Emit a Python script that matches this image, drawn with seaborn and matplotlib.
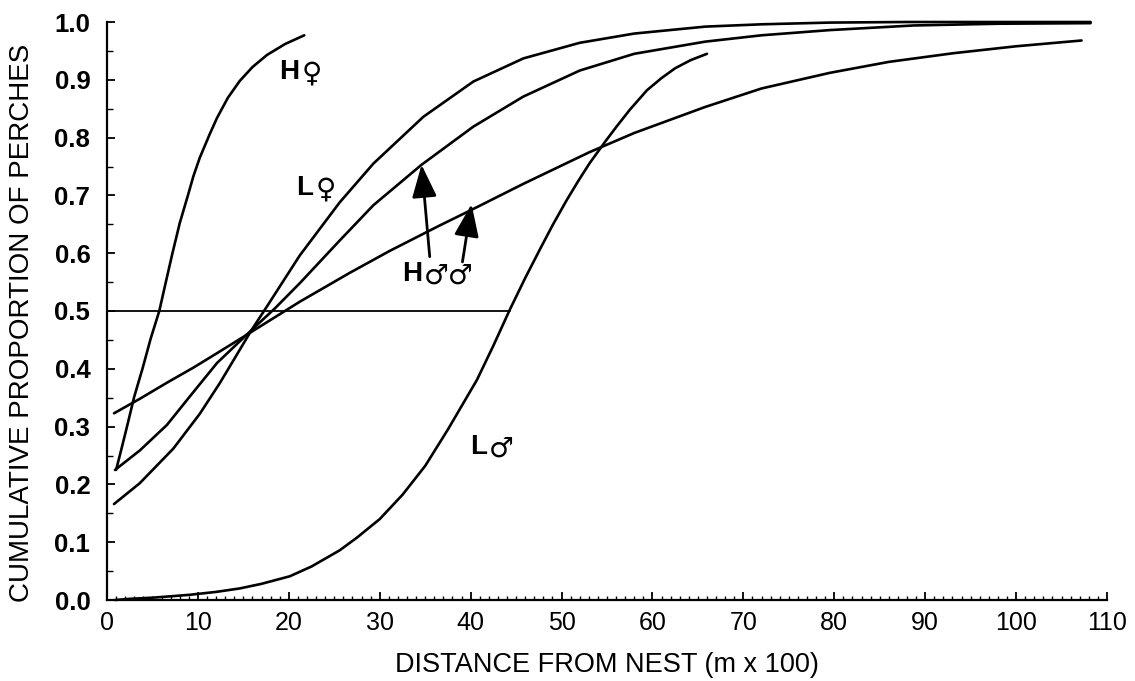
import matplotlib
matplotlib.use("Agg")
import matplotlib.pyplot as plt
from matplotlib import font_manager
from matplotlib.ticker import MultipleLocator, FormatStrFormatter
import seaborn as sns

# curve values (distance in m x 100, cumulative proportion)
hf_x = [1.0, 1.6, 2.2, 3.0, 3.9, 4.8, 5.75, 6.5, 7.2, 8.0, 8.9, 9.5, 10.2, 11.3, 12.1, 13.3,
        14.6, 16.0, 17.6, 19.6, 21.7]
hf_y = [0.225, 0.262, 0.30, 0.352, 0.40, 0.452, 0.50, 0.552, 0.60, 0.652, 0.70, 0.733, 0.765,
        0.806, 0.834, 0.869, 0.898, 0.922, 0.943, 0.962, 0.977]

lf_x = [0.77, 3.6, 7.3, 10.2, 12.4, 15.9, 17.6, 21.2, 25.6, 29.3, 34.8, 40.3, 45.8, 52.0, 58.0,
        65.8, 72.0, 79.5, 88.0, 98.0, 108.2]
lf_y = [0.166, 0.202, 0.262, 0.322, 0.375, 0.467, 0.508, 0.596, 0.688, 0.755, 0.836, 0.897, 0.937,
        0.964, 0.98, 0.992, 0.996, 0.999, 1.0, 1.0, 1.0]

hm1_x = [0.88, 3.63, 6.6, 9.0, 12.1, 15.9, 18.5, 21.2, 25.6, 29.3, 34.6, 40.3, 45.8, 52.0, 58.0,
         65.8, 72.0, 79.5, 88.7, 98.0, 108.2]
hm1_y = [0.225, 0.259, 0.303, 0.35, 0.41, 0.467, 0.505, 0.548, 0.622, 0.683, 0.753, 0.819, 0.871,
         0.916, 0.945, 0.966, 0.977, 0.986, 0.994, 0.997, 0.998]

hm2_x = [0.77, 3.6, 6.6, 9.5, 12.1, 15.9, 21.2, 26.7, 31.1, 36.6, 40.1, 45.8, 53.1, 58.0, 65.8,
         72.0, 79.5, 86.0, 93.1, 100.0, 107.2]
hm2_y = [0.323, 0.348, 0.376, 0.402, 0.427, 0.464, 0.516, 0.566, 0.604, 0.648, 0.675, 0.72, 0.775,
         0.808, 0.853, 0.885, 0.912, 0.931, 0.946, 0.958, 0.968]

lm_x = [0.9, 2.5, 5.0, 7.5, 9.1, 12.0, 14.6, 17.0, 20.1, 22.5, 25.6, 27.5, 30.0, 32.5, 35.0,
        37.5, 40.7, 42.5, 44.3, 46.0, 47.6, 49.0, 50.5, 51.8, 53.1, 54.8, 56.0, 57.5, 59.4,
        61.0, 62.5, 64.2, 66.0]
lm_y = [0.0, 0.002, 0.004, 0.007, 0.009, 0.014, 0.020, 0.028, 0.041, 0.058, 0.086, 0.108, 0.140,
        0.182, 0.232, 0.295, 0.381, 0.44, 0.502, 0.557, 0.606, 0.648, 0.69, 0.724, 0.756, 0.793,
        0.818, 0.848, 0.882, 0.903, 0.92, 0.934, 0.945]

half_x = [0.0, 44.3]
half_y = [0.5, 0.5]

sns.set_style("ticks")

def have(name):
    try:
        font_manager.findfont(name, fallback_to_default=False)
        return True
    except Exception:
        return False

narrow = "Liberation Sans Narrow" if have("Liberation Sans Narrow") else "Liberation Sans"
plt.rcParams['font.family'] = ['Liberation Sans', 'DejaVu Sans']
plt.rcParams.update({'text.color': 'black', 'axes.labelcolor': 'black',
                     'xtick.color': 'black', 'ytick.color': 'black',
                     'axes.edgecolor': 'black'})

fig = plt.figure(figsize=(11.35, 6.81), dpi=100)
ax = fig.add_axes([107/1135, 1-600/681, 1000/1135, 578/681])

for xs, ys in [(hf_x, hf_y), (lf_x, lf_y), (hm1_x, hm1_y), (hm2_x, hm2_y), (lm_x, lm_y)]:
    sns.lineplot(x=xs, y=ys, ax=ax, color='black', lw=1.9, sort=False, estimator=None)
sns.lineplot(x=half_x, y=half_y, ax=ax, color='black', lw=1.3, sort=False, estimator=None)

for ln in ax.lines:
    ln.set_clip_on(False)
    ln.set_solid_joinstyle('round')

ax.set_xlim(0, 110)
ax.set_ylim(0, 1.0)
sns.despine(ax=ax)
for s in ['left', 'bottom']:
    ax.spines[s].set_linewidth(1.6)

ax.xaxis.set_major_locator(MultipleLocator(10))
ax.xaxis.set_minor_locator(MultipleLocator(1))
ax.yaxis.set_major_locator(MultipleLocator(0.1))
ax.yaxis.set_minor_locator(MultipleLocator(0.05))
ax.yaxis.set_major_formatter(FormatStrFormatter('%.1f'))
ax.tick_params(axis='x', which='major', direction='in', length=6, width=1.3, pad=8)
ax.tick_params(axis='x', which='minor', direction='in', length=3, width=1.0)
ax.tick_params(axis='y', which='major', direction='in', length=6, width=1.3, pad=12)
ax.tick_params(axis='y', which='minor', direction='in', length=4, width=1.0)

for lab in ax.get_yticklabels():
    lab.set_fontweight('bold')
    lab.set_fontsize(18.5)
for lab in ax.get_xticklabels():
    lab.set_family(narrow)
    lab.set_fontsize(18)

ax.set_xlabel('DISTANCE FROM NEST (m x 100)', family=narrow, fontsize=19.5)
ax.set_ylabel('CUMULATIVE PROPORTION OF PERCHES', fontsize=20)
ax.xaxis.set_label_coords(0.5, -0.09)
ax.yaxis.set_label_coords(-0.072, 0.48)

# curve labels: bold letter + sex symbol
def tag(x, y, letter, sym):
    ax.text(x, y, letter, ha='right', va='center', fontsize=20, fontweight='bold')
    ax.annotate(sym, (x, y), xytext=(1.5, -1), textcoords='offset points',
                ha='left', va='center', fontsize=20, family=['DejaVu Sans'])

tag(21.2, 0.913, 'H', '\u2640')
tag(22.7, 0.713, 'L', '\u2640')
tag(34.65, 0.564, 'H', '\u2642\u2642')
tag(41.8, 0.265, 'L', '\u2642')

arrow = dict(arrowstyle='-|>,head_length=1.0,head_width=0.38', lw=2, color='black',
             mutation_scale=20, shrinkA=0, shrinkB=0)
ax.annotate('', xy=(34.6, 0.753), xytext=(35.5, 0.594), arrowprops=arrow)
ax.annotate('', xy=(40.1, 0.685), xytext=(39.1, 0.585), arrowprops=arrow)

fig.savefig('out.png', dpi=100)
